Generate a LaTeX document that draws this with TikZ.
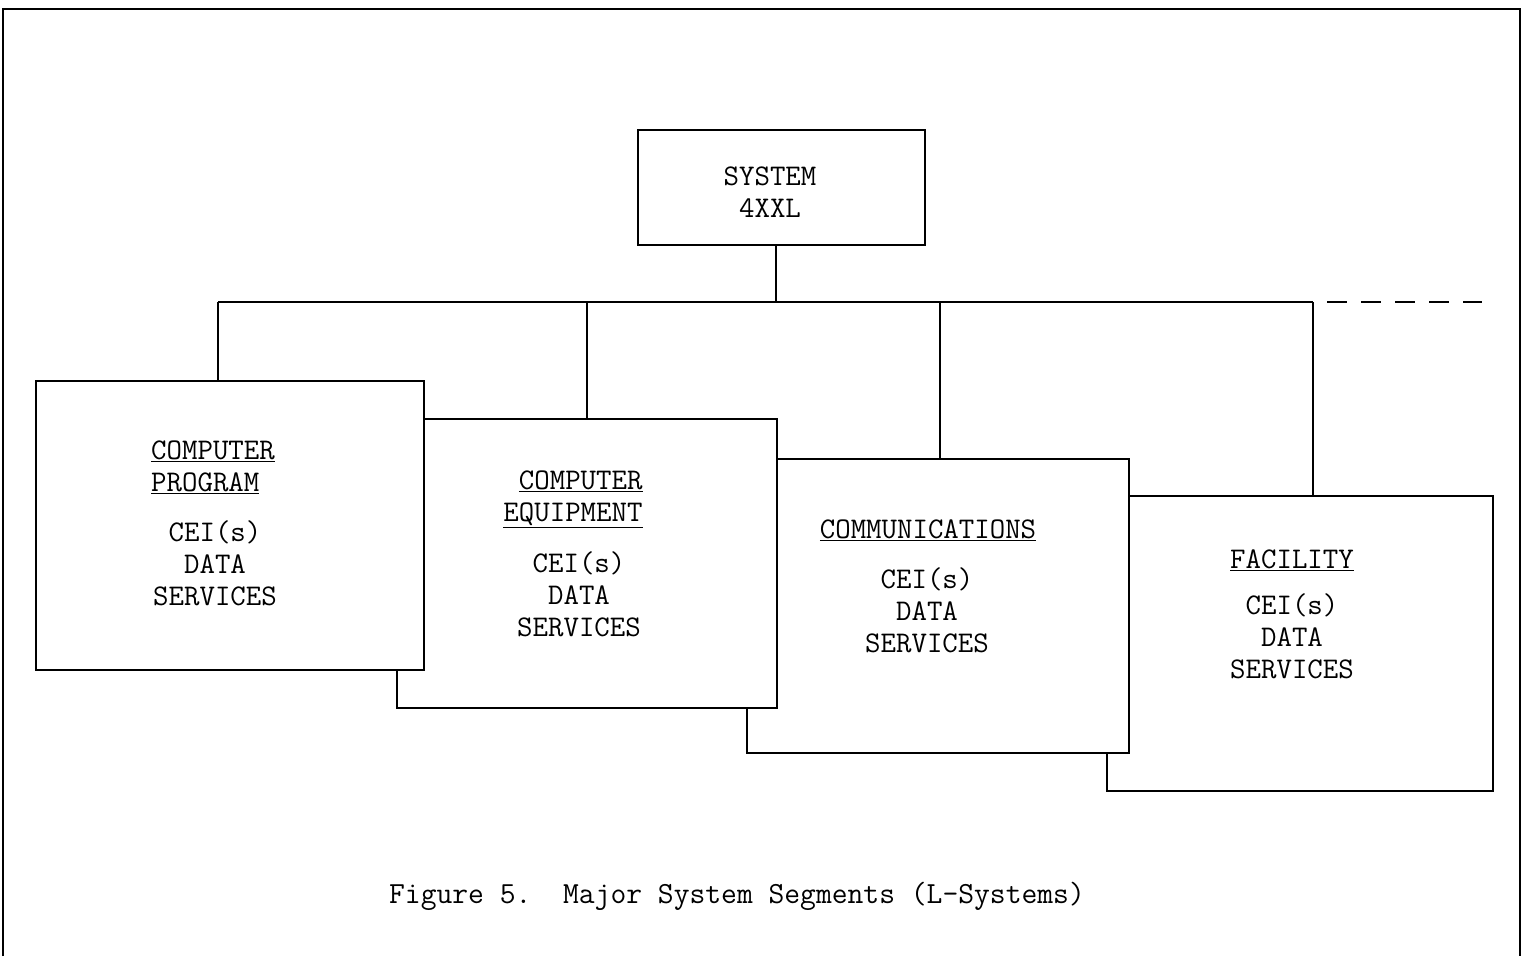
\documentclass[tikz,border=0pt]{standalone}
\usepackage{fontspec}
\begin{document}
\begin{tikzpicture}[x=1pt,y=-1pt,
  frame/.style={line width=1.6pt},
  seg/.style={draw,line width=1.4pt,fill=white,inner sep=0pt,rectangle},
  conn/.style={line width=1.4pt},
  lbl/.style={inner sep=0pt,font=\ttfamily\fontsize{30}{32}\selectfont},
  captext/.style={inner sep=0pt,font=\ttfamily\fontsize{30.7}{32}\selectfont}]
\useasboundingbox (0,0) rectangle (1528,956);
% outer frame
\draw[frame] (3,956) -- (3,9) -- (1520,9) -- (1520,956);
% system box
\node[seg,minimum width=287pt,minimum height=115pt] (sys) at (781.5,187.5) {};
\node[lbl,align=center] (systxt) at (770,192) {SYSTEM\\4XXL};
% segment boxes (back to front)
\node[seg,minimum width=386pt,minimum height=295pt] (b4) at (1300,643.5) {};
\node[seg,minimum width=382pt,minimum height=294pt] (b3) at (938,606) {};
\node[seg,minimum width=380pt,minimum height=289pt] (b2) at (587,563.5) {};
\node[seg,minimum width=388pt,minimum height=289pt] (b1) at (230,525.5) {};
% bus
\coordinate (busS) at (776,302);
\coordinate (busL) at (218,302);
\coordinate (bus3) at (940,302);
\coordinate (busR) at (1313,302);
\coordinate (busE) at (1482,302);
\draw[conn] (sys.south -| busS) -- (busS);
\draw[conn] (busL) -- (busR);
\draw[conn,dash pattern=on 20pt off 14pt,dash phase=20pt] (busR) -- (busE);
\draw[conn] (busL) -- (busL |- b1.north);
\draw[conn] (b2.north |- busS) -- (b2.north);
\draw[conn] (bus3) -- (bus3 |- b3.north);
\draw[conn] (busR) -- (busR |- b4.north);
% texts
\node[lbl,align=left] (t1) at (213,467) {\underline{COMPUTER}\\\underline{PROGRAM}};
\node[lbl,align=center] (d1) at (215,563) {CEI(s)\\DATA\\SERVICES};
\node[lbl,align=right] (t2) at (573,499) {\underline{COMPUTER}\\\underline{EQUIPMENT}};
\node[lbl,align=center] (d2) at (579,594) {CEI(s)\\DATA\\SERVICES};
\node[lbl] (t3) at (928,530) {\underline{COMMUNICATIONS}};
\node[lbl,align=center] (d3) at (927,610) {CEI(s)\\DATA\\SERVICES};
\node[lbl] (t4) at (1292,560) {\underline{FACILITY}};
\node[lbl,align=center] (d4) at (1292,636) {CEI(s)\\DATA\\SERVICES};
% caption
\node[captext] (caption) at (737,896) {Figure 5.\ \ Major System Segments (L-Systems)};
\end{tikzpicture}
\end{document}
